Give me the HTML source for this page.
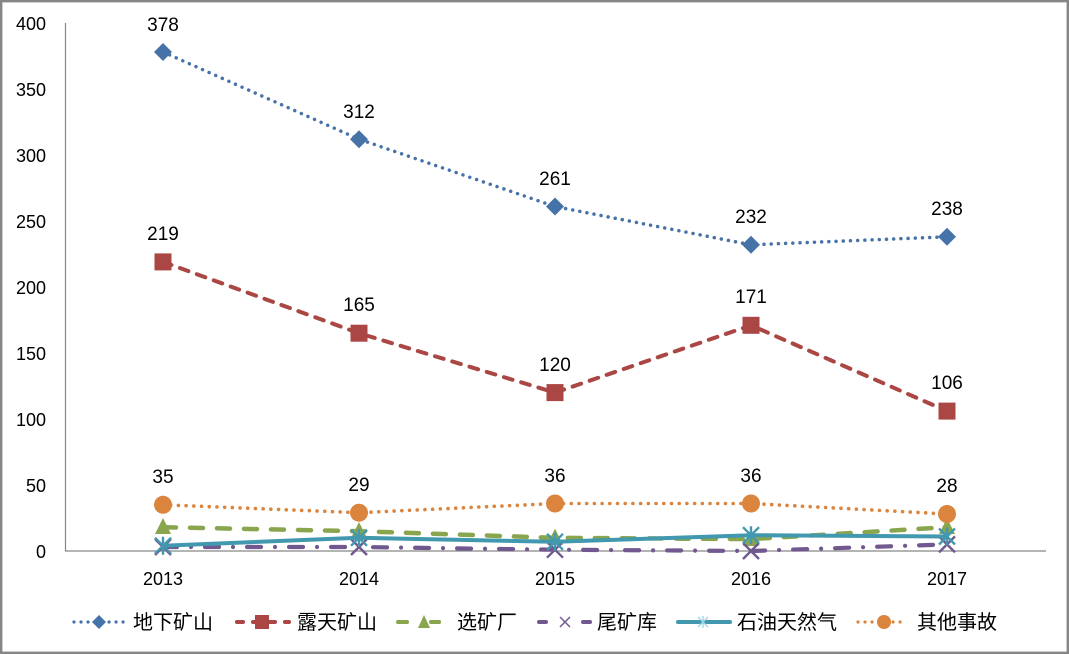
<!DOCTYPE html>
<html>
<head>
<meta charset="utf-8">
<style>
html,body{margin:0;padding:0;background:#fff;}
svg{display:block;}
text{font-family:"Liberation Sans","Noto Sans CJK SC",sans-serif;fill:#000;}
.lg{font-family:"Liberation Sans","Noto Sans CJK SC",sans-serif;font-size:20px;}
</style>
</head>
<body>
<svg width="1069" height="654" viewBox="0 0 1069 654" xmlns="http://www.w3.org/2000/svg">
<rect x="0" y="0" width="1069" height="654" fill="#fff"/>
<rect x="1.2" y="1.2" width="1066.6" height="651.6" fill="none" stroke="#868686" stroke-width="2.4"/>

<!-- axes -->
<line x1="65.5" y1="23" x2="65.5" y2="551" stroke="#868686" stroke-width="1.2"/>
<line x1="65" y1="551" x2="1046" y2="551" stroke="#868686" stroke-width="1.2"/>

<!-- y labels -->
<g font-size="18" text-anchor="end">
<text x="46" y="30">400</text>
<text x="46" y="96">350</text>
<text x="46" y="162">300</text>
<text x="46" y="228">250</text>
<text x="46" y="294">200</text>
<text x="46" y="360">150</text>
<text x="46" y="426">100</text>
<text x="46" y="492">50</text>
<text x="46" y="558">0</text>
</g>

<!-- x labels -->
<g font-size="18" text-anchor="middle">
<text x="163" y="585">2013</text>
<text x="359" y="585">2014</text>
<text x="555" y="585">2015</text>
<text x="751" y="585">2016</text>
<text x="947" y="585">2017</text>
</g>

<!-- 地下矿山 -->
<polyline points="163,52 359,139.2 555,206.5 751,244.8 947,236.8" fill="none" stroke="#4572A7" stroke-width="3.5" stroke-linecap="round" stroke-dasharray="0.01 7.2"/>
<g fill="#4572A7">
<polygon points="163,43 172,52 163,61 154,52"/>
<polygon points="359,130.2 368,139.2 359,148.2 350,139.2"/>
<polygon points="555,197.5 564,206.5 555,215.5 546,206.5"/>
<polygon points="751,235.8 760,244.8 751,253.8 742,244.8"/>
<polygon points="947,227.8 956,236.8 947,245.8 938,236.8"/>
</g>

<!-- 露天矿山 -->
<polyline points="163,261.9 359,333.2 555,392.6 751,325.3 947,411.1" fill="none" stroke="#AA4643" stroke-width="4" stroke-linecap="round" stroke-dasharray="9 9"/>
<g fill="#AA4643">
<rect x="154.5" y="253.4" width="17" height="17"/>
<rect x="350.5" y="324.7" width="17" height="17"/>
<rect x="546.5" y="384.1" width="17" height="17"/>
<rect x="742.5" y="316.8" width="17" height="17"/>
<rect x="938.5" y="402.6" width="17" height="17"/>
</g>

<!-- 选矿厂 -->
<polyline points="163,527.2 359,531.2 555,537.8 751,539.1 947,527.2" fill="none" stroke="#89A54E" stroke-width="4.5" stroke-linecap="round" stroke-dasharray="13 14"/>
<g fill="#89A54E">
<polygon points="163,518 171,534 155,534"/>
<polygon points="359,522 367,538 351,538"/>
<polygon points="555,528.6 563,544.6 547,544.6"/>
<polygon points="751,530 759,546 743,546"/>
<polygon points="947,518 955,534 939,534"/>
</g>

<!-- 尾矿库 -->
<polyline points="163,547 359,547 555,549.7 751,551 947,544.4" fill="none" stroke="#71588F" stroke-width="4.2" stroke-linecap="round" stroke-dasharray="14 14 0.01 14"/>
<g stroke="#71588F" stroke-width="2.4">
<path d="M155,539 L171,555 M171,539 L155,555"/>
<path d="M351,539 L367,555 M367,539 L351,555"/>
<path d="M547,541.7 L563,557.7 M563,541.7 L547,557.7"/>
<path d="M743,543 L759,559 M759,543 L743,559"/>
<path d="M939,536.4 L955,552.4 M955,536.4 L939,552.4"/>
</g>

<!-- 石油天然气 -->
<polyline points="163,545.7 359,537.8 555,541.8 751,535.2 947,536.5" fill="none" stroke="#4198AF" stroke-width="4" stroke-linecap="round" stroke-linejoin="round"/>
<g stroke="#4198AF" stroke-width="2.4">
<path d="M155,537.7 L171,553.7 M171,537.7 L155,553.7 M163,536.7 L163,554.7"/>
<path d="M351,529.8 L367,545.8 M367,529.8 L351,545.8 M359,528.8 L359,546.8"/>
<path d="M547,533.8 L563,549.8 M563,533.8 L547,549.8 M555,532.8 L555,550.8"/>
<path d="M743,527.2 L759,543.2 M759,527.2 L743,543.2 M751,526.2 L751,544.2"/>
<path d="M939,528.5 L955,544.5 M955,528.5 L939,544.5 M947,527.5 L947,545.5"/>
</g>

<!-- 其他事故 -->
<polyline points="163,504.8 359,512.7 555,503.5 751,503.5 947,514" fill="none" stroke="#DB843D" stroke-width="3.6" stroke-linecap="round" stroke-dasharray="0.01 7.7"/>
<g fill="#DB843D">
<circle cx="163" cy="504.8" r="9"/>
<circle cx="359" cy="512.7" r="9"/>
<circle cx="555" cy="503.5" r="9"/>
<circle cx="751" cy="503.5" r="9"/>
<circle cx="947" cy="514" r="9"/>
</g>

<!-- data labels -->
<g font-size="19" text-anchor="middle">
<text x="163" y="31">378</text>
<text x="359" y="118">312</text>
<text x="555" y="185">261</text>
<text x="751" y="223">232</text>
<text x="947" y="215">238</text>
<text x="163" y="240">219</text>
<text x="359" y="311">165</text>
<text x="555" y="371">120</text>
<text x="751" y="303">171</text>
<text x="947" y="389">106</text>
<text x="163" y="483">35</text>
<text x="359" y="491">29</text>
<text x="555" y="482">36</text>
<text x="751" y="482">36</text>
<text x="947" y="492">28</text>
</g>

<!-- legend -->
<g>
<line x1="74" y1="622" x2="124" y2="622" stroke="#4572A7" stroke-width="3.2" stroke-linecap="round" stroke-dasharray="0.01 7"/>
<polygon points="99,615 106,622 99,629 92,622" fill="#4572A7"/>
<text class="lg" x="133" y="629">地下矿山</text>

<line x1="237" y1="622" x2="289" y2="622" stroke="#AA4643" stroke-width="4" stroke-linecap="round" stroke-dasharray="6 10"/>
<rect x="255" y="615" width="14" height="14" fill="#AA4643"/>
<text class="lg" x="297" y="629">露天矿山</text>

<line x1="398" y1="622" x2="439" y2="622" stroke="#89A54E" stroke-width="4" stroke-linecap="round" stroke-dasharray="9 28"/>
<line x1="431" y1="622" x2="439" y2="622" stroke="#89A54E" stroke-width="4" stroke-linecap="round"/>
<polygon points="424,615 430,628 418,628" fill="#89A54E"/>
<text class="lg" x="457" y="629">选矿厂</text>

<line x1="539" y1="622" x2="546" y2="622" stroke="#71588F" stroke-width="4" stroke-linecap="round"/>
<line x1="583" y1="622" x2="590" y2="622" stroke="#71588F" stroke-width="4" stroke-linecap="round"/>
<path d="M560,617 L570,627 M570,617 L560,627" stroke="#71588F" stroke-width="1.5"/>
<text class="lg" x="597" y="629">尾矿库</text>

<line x1="678" y1="622" x2="730" y2="622" stroke="#4198AF" stroke-width="4" stroke-linecap="round"/>
<path d="M698,617 L708,627 M708,617 L698,627 M703,616 L703,628" stroke="#9fd3e3" stroke-width="1.3"/>
<text class="lg" x="737" y="629">石油天然气</text>

<line x1="858" y1="622" x2="907" y2="622" stroke="#DB843D" stroke-width="3.2" stroke-linecap="round" stroke-dasharray="0.01 7"/>
<circle cx="884" cy="622" r="7" fill="#DB843D"/>
<text class="lg" x="917" y="629">其他事故</text>
</g>
</svg>
</body>
</html>
